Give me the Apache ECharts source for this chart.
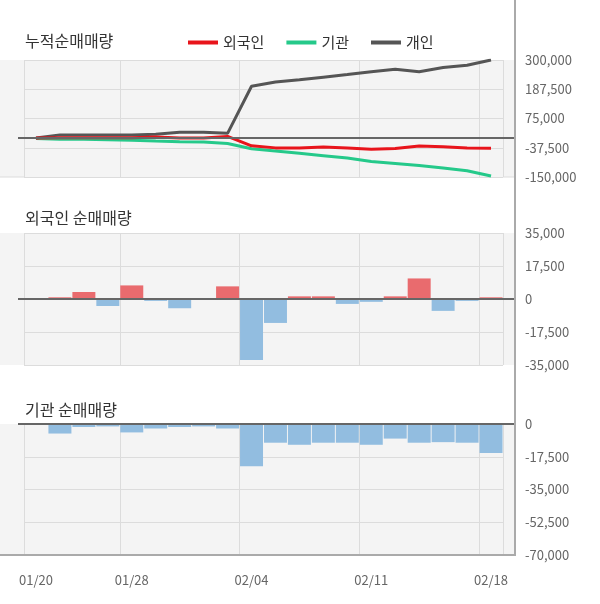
<!DOCTYPE html>
<html><head><meta charset="utf-8">
<script src="https://cdn.jsdelivr.net/npm/echarts@6/dist/echarts.min.js"></script>
<style>html,body{margin:0;padding:0;background:#fff}#c{width:600px;height:604px}</style>
</head><body><div id="c"></div>
<script>
const dates = ['01/20','01/21','01/22','01/23','01/28','01/29','01/30','01/31','02/03','02/04','02/05','02/06','02/07','02/10','02/11','02/12','02/13','02/14','02/17','02/18'];
const cumForeign = [0,1000,1000,1000,1000,4000,0,0,6000,-30000,-38000,-38000,-35000,-38000,-43000,-40000,-31000,-34000,-38000,-39000];
const cumInst = [-2000,-5000,-5000,-6500,-9000,-12000,-14000,-15000,-21000,-41000,-50000,-59000,-68000,-77000,-90000,-98000,-106000,-115000,-126000,-146000];
const cumIndiv = [0,12000,12000,12000,12000,14000,22000,22000,18000,199000,215000,224000,234000,244000,255000,264000,255000,271000,280000,300000];
const foreignNet = [0,900,3700,-3700,7200,-1000,-4900,200,6700,-32300,-12700,1400,1400,-2600,-1500,1400,10900,-6300,-1000,900];
const instNet = [0,-5100,-1600,-1300,-4500,-2400,-1600,-1300,-2400,-22600,-10000,-11100,-10000,-10000,-11100,-7800,-10000,-9700,-10000,-15500];
const tickIdx = [0,4,9,14,19];

const GL = 24, GR = 97, AX = 515;
const panels = [[60,117],[233,132],[424,131]];
const grids = panels.map(p=>({left:GL,right:GR,top:p[0],height:p[1],show:true,backgroundColor:'#f4f4f4',borderWidth:0}));
const vsplit = {show:true,interval:(i)=>tickIdx.includes(i),lineStyle:{color:'#dcdcdc'}};
function xa(gi, extra){
  return Object.assign({type:'category',gridIndex:gi,data:dates,boundaryGap:true,
    axisLine:{show:false},axisTick:{show:false},axisLabel:{show:false},splitLine:vsplit},extra||{});
}
function ya(gi,min,max,iv){
  return {type:'value',gridIndex:gi,position:'right',offset:12,min:min,max:max,interval:iv,
    axisLine:{show:false},axisTick:{show:false},
    axisLabel:{color:'#666',fontSize:13,fontFamily:'Noto Sans CJK KR',margin:10,formatter:v=>v.toLocaleString('en-US')},
    splitLine:{show:true,lineStyle:{color:'#dcdcdc'}}};
}
const posNeg = v=>({value:v,itemStyle:{color:v>=0?'#e96b6e':'#92bde0'}});
const tf = {fontFamily:'Noto Sans CJK KR',fontSize:16,color:'#333',fontWeight:'normal'};
const gfx = [];
panels.forEach(p=>{
  gfx.push({type:'rect',shape:{x:0,y:p[0],width:GL,height:p[1]},style:{fill:'#f4f4f4'},z:-1});
  gfx.push({type:'rect',shape:{x:600-GR,y:p[0],width:AX-(600-GR),height:p[1]},style:{fill:'#f4f4f4'},z:-1});
});
const zeroY = [60+117*(300000/450000), 233+66, 424];
zeroY.forEach(y=>gfx.push({type:'line',shape:{x1:18,y1:y,x2:AX,y2:y},style:{stroke:'#666',lineWidth:2},z:10}));
gfx.push({type:'line',shape:{x1:0,y1:177,x2:AX,y2:177},style:{stroke:'#dcdcdc'},z:-1});
gfx.push({type:'line',shape:{x1:0,y1:555,x2:AX,y2:555},style:{stroke:'#aaa',lineWidth:2},z:10});
gfx.push({type:'line',shape:{x1:AX,y1:0,x2:AX,y2:556},style:{stroke:'#aaa',lineWidth:2},z:10});

const chart = echarts.init(document.getElementById('c'));
chart.setOption({
  animation:false,
  title:[
    {text:'누적순매매량',left:20,top:28,textStyle:tf},
    {text:'외국인 순매매량',left:20,top:205,textStyle:tf},
    {text:'기관 순매매량',left:20,top:397,textStyle:tf}
  ],
  legend:{data:['외국인','기관','개인'],left:183,top:30,itemWidth:30,itemHeight:4,itemGap:22,icon:'rect',
    textStyle:{fontFamily:'Noto Sans CJK KR',fontSize:15,color:'#333'}},
  grid:grids,
  xAxis:[xa(0),xa(1),xa(2),
    xa(2,{position:'bottom',splitLine:{show:false},
      axisLabel:{show:true,interval:(i)=>tickIdx.includes(i),color:'#666',fontSize:13,fontFamily:'Noto Sans CJK KR',margin:19}})],
  yAxis:[ya(0,-150000,300000,112500),ya(1,-35000,35000,17500),ya(2,-70000,0,17500)],
  series:[
    {name:'외국인',type:'line',xAxisIndex:0,yAxisIndex:0,data:cumForeign,symbol:'none',lineStyle:{color:'#e8141b',width:3},itemStyle:{color:'#e8141b'},z:4},
    {name:'기관',type:'line',xAxisIndex:0,yAxisIndex:0,data:cumInst,symbol:'none',lineStyle:{color:'#25c98a',width:3},itemStyle:{color:'#25c98a'},z:3},
    {name:'개인',type:'line',xAxisIndex:0,yAxisIndex:0,data:cumIndiv,symbol:'none',lineStyle:{color:'#555',width:3},itemStyle:{color:'#555'},z:3},
    {type:'bar',xAxisIndex:1,yAxisIndex:1,data:foreignNet.map(posNeg),barCategoryGap:'4%'},
    {type:'bar',xAxisIndex:2,yAxisIndex:2,data:instNet.map(posNeg),barCategoryGap:'4%'}
  ],
  graphic:gfx
});
</script></body></html>
